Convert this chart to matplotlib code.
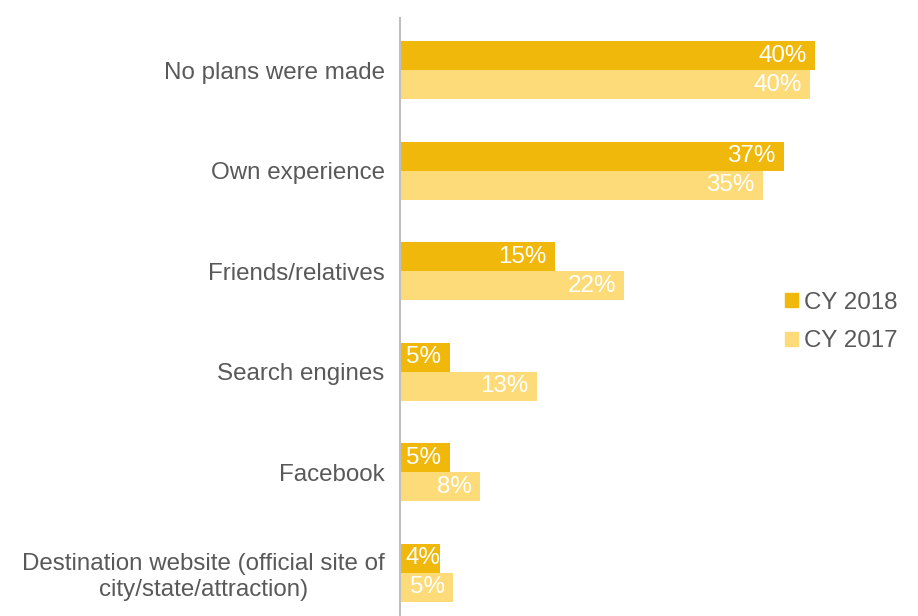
import numpy as np
import matplotlib
matplotlib.use("Agg")
import matplotlib.pyplot as plt
from matplotlib.patches import Patch

plt.rcParams['font.family'] = ['Liberation Sans', 'DejaVu Sans']

categories = ['No plans were made', 'Own experience', 'Friends/relatives',
              'Search engines', 'Facebook',
              'Destination website (official site of\ncity/state/attraction)']
cy2018 = [40.0, 37.0, 14.9, 4.8, 4.8, 3.9]
cy2017 = [39.5, 35.0, 21.6, 13.2, 7.7, 5.1]

c18 = '#F0B80A'
c17 = '#FCDB78'
grey = '#595959'
fs = 17.4

fig = plt.figure(figsize=(9.18, 6.16), dpi=100)
ax = fig.add_axes([400 / 918, 0, 415 / 918, 1 - 18 / 616])

y = np.arange(len(categories))
h = 0.288
b18 = ax.barh(y - h / 2, cy2018, height=h, color=c18, edgecolor='none')
b17 = ax.barh(y + h / 2, cy2017, height=h, color=c17, edgecolor='none')

for bars, vals in ((b18, cy2018), (b17, cy2017)):
    for bar, v in zip(bars, vals):
        yc = bar.get_y() + bar.get_height() / 2
        if v < 4.5:
            # too short for an inside-end label, start it at the bar base
            ax.annotate(f'{round(v):.0f}%', xy=(0, yc), xytext=(4, 0),
                        textcoords='offset points', ha='left', va='center',
                        color='white', fontsize=fs)
        else:
            ax.annotate(f'{round(v):.0f}%', xy=(v, yc), xytext=(-6, 0),
                        textcoords='offset points', ha='right', va='center',
                        color='white', fontsize=fs)

ax.set_xlim(0, 40)
ax.set_ylim(5.43, -0.52)
ax.set_yticks(y)
ax.set_yticklabels(categories, fontsize=fs, color=grey, multialignment='center')
ax.tick_params(axis='y', length=0, pad=11)
ax.set_xticks([])
for s in ('top', 'right', 'bottom'):
    ax.spines[s].set_visible(False)
ax.spines['left'].set_color('#BFBFBF')
ax.spines['left'].set_linewidth(1.5)

handles = [Patch(color=c18, label='CY 2018'), Patch(color=c17, label='CY 2017')]
fig.legend(handles=handles, loc='center left', bbox_to_anchor=(775 / 918, 1 - 322 / 616),
           frameon=False, fontsize=fs, labelcolor=grey, handlelength=0.56,
           handleheight=0.56, handletextpad=0.22, labelspacing=0.7,
           borderaxespad=0, borderpad=0.4)

fig.savefig('out.png', dpi=100)
